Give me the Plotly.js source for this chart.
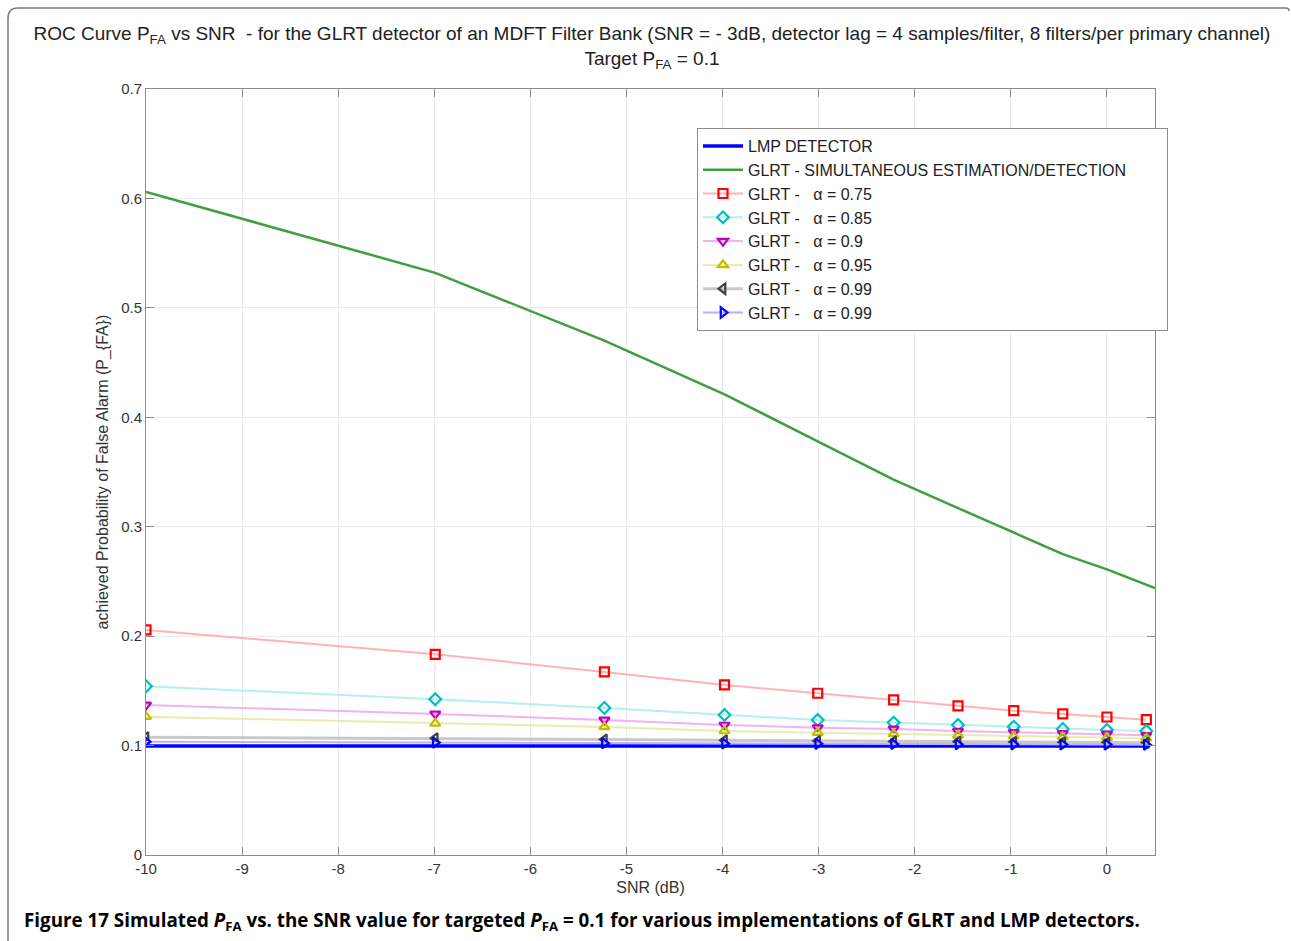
<!DOCTYPE html>
<html>
<head>
<meta charset="utf-8">
<script src="https://cdn.plot.ly/plotly-3.0.1.min.js"></script>
<style>
  html, body { margin: 0; padding: 0; background: #ffffff; }
  #chart { width: 1291px; height: 941px; }
</style>
</head>
<body>
<div id="chart"></div>
<script>
// SNR grid in dB (linear SNR 0.1 ... 1.1)
const snrDb = [-10, -6.99, -5.23, -3.98, -3.01, -2.22, -1.55, -0.97, -0.46, 0, 0.41];

// achieved false-alarm probability per detector
const lmp       = [0.0996, 0.0996, 0.0997, 0.0997, 0.0996, 0.0997, 0.0996, 0.0997, 0.0996, 0.0997, 0.0996];
const glrtSimX  = [-10, -6.99, -5.23, -3.98, -3.01, -2.22, -1.55, -0.97, -0.46, 0, 0.41, 0.5];
const glrtSim   = [0.606, 0.532, 0.470, 0.421, 0.378, 0.343, 0.317, 0.295, 0.275, 0.261, 0.247, 0.244];
const glrt075   = [0.2057, 0.1834, 0.1673, 0.1554, 0.1478, 0.1417, 0.1362, 0.1319, 0.1289, 0.1261, 0.1237];
const glrt085   = [0.1542, 0.1423, 0.1344, 0.1280, 0.1234, 0.1210, 0.1188, 0.1173, 0.1152, 0.1143, 0.1133];
const glrt090   = [0.1371, 0.1289, 0.1234, 0.1188, 0.1164, 0.1152, 0.1133, 0.1121, 0.1112, 0.1106, 0.1094];
const glrt095   = [0.1264, 0.1203, 0.1170, 0.1133, 0.1118, 0.1106, 0.1094, 0.1085, 0.1079, 0.1073, 0.1067];
const glrt099a  = [0.1076, 0.1067, 0.1055, 0.1048, 0.1042, 0.1038, 0.1035, 0.1032, 0.1030, 0.1028, 0.1026];
const glrt099b  = [0.1036, 0.1027, 0.1022, 0.1019, 0.1016, 0.1014, 0.1012, 0.1011, 0.1010, 0.1009, 0.1008];

const xTicks = [-10, -9, -8, -7, -6, -5, -4, -3, -2, -1, 0];
const yTicks = [0, 0.1, 0.2, 0.3, 0.4, 0.5, 0.6, 0.7];
const yTickText = ['0', '0.1', '0.2', '0.3', '0.4', '0.5', '0.6', '0.7'];

const sp = '\u00a0';
const alphaLabel = v => 'GLRT -' + sp + sp + sp + 'α = ' + v;

function glrtTrace(y, name, lineColor, markColor, symbol, lineWidth) {
  return {
    x: snrDb, y: y, name: name, type: 'scatter', mode: 'lines+markers',
    line: { color: lineColor, width: lineWidth || 2 },
    marker: { symbol: symbol, size: 9, color: markColor, line: { color: markColor, width: 2.2 } }
  };
}

const traces = [
  { x: snrDb, y: lmp, name: 'LMP DETECTOR', type: 'scatter', mode: 'lines',
    line: { color: '#0000ff', width: 3.5 } },
  { x: glrtSimX, y: glrtSim, name: 'GLRT - SIMULTANEOUS ESTIMATION/DETECTION' + sp.repeat(8), type: 'scatter', mode: 'lines',
    line: { color: '#3f9f3f', width: 2.5 } },
  glrtTrace(glrt075, alphaLabel('0.75'), '#ffb3b3', '#ff0000', 'square-open'),
  glrtTrace(glrt085, alphaLabel('0.85'), '#b3f0f0', '#00bfbf', 'diamond-open'),
  glrtTrace(glrt090, alphaLabel('0.9'),  '#f0b3f0', '#bf00bf', 'triangle-down-open'),
  glrtTrace(glrt095, alphaLabel('0.95'), '#ebebb0', '#bfbf00', 'triangle-up-open'),
  glrtTrace(glrt099a, alphaLabel('0.99'), '#c8c8c8', '#404040', 'triangle-left-open', 3),
  glrtTrace(glrt099b, alphaLabel('0.99'), '#b3b3ff', '#0000ff', 'triangle-right-open')
];

// plot area: x 146..1155 px, y 89..855 px
const W = 1291, H = 941, L = 146, R = 1155, T = 89, B = 855;
const px = v => (v - L) / (R - L);
const py = v => (B - v) / (B - T);

const axisCommon = {
  showline: true, linecolor: '#8c8c8c', linewidth: 1, mirror: 'ticks',
  ticks: 'inside', ticklen: 8, tickcolor: '#8c8c8c', tickwidth: 1,
  showgrid: true, gridcolor: '#ebebeb', gridwidth: 1, zeroline: false,
  tickfont: { family: 'Liberation Sans, Arial, sans-serif', size: 15, color: '#333333' }
};

const frameR = 10;
const framePath =
  'M ' + px(8) + ',' + py(H + 5) +
  ' L ' + px(8) + ',' + py(8 + frameR) +
  ' Q ' + px(8) + ',' + py(8) + ' ' + px(8 + frameR) + ',' + py(8) +
  ' L ' + px(1286) + ',' + py(8) +
  ' Q ' + px(1289) + ',' + py(8) + ' ' + px(1289) + ',' + py(11);

const layout = {
  width: W, height: H,
  margin: { l: L, r: W - R, t: T, b: H - B, pad: 0 },
  paper_bgcolor: '#ffffff', plot_bgcolor: '#ffffff',
  font: { family: 'Liberation Sans, Arial, sans-serif', color: '#222222' },
  title: {
    text: 'ROC Curve P<sub>FA</sub> vs SNR' + sp + sp + '- for the GLRT detector of an MDFT Filter Bank (SNR = - 3dB, detector lag = 4 samples/filter, 8 filters/per primary channel)<br>Target P<sub>FA</sub> = 0.1',
    x: 0.505, xref: 'container', xanchor: 'center',
    y: 1 - 40 / H, yref: 'container', yanchor: 'top',
    font: { family: 'Liberation Sans, Arial, sans-serif', size: 19, color: '#222222' }
  },
  xaxis: Object.assign({}, axisCommon, {
    range: [-10, 0.5], tickvals: xTicks, ticktext: xTicks.map(String),
    title: { text: 'SNR (dB)', standoff: 5, font: { size: 16, color: '#333333' } },
    automargin: false
  }),
  yaxis: Object.assign({}, axisCommon, {
    range: [0, 0.7], tickvals: yTicks, ticktext: yTickText,
    title: { text: 'achieved Probability of False Alarm (P_{FA})', standoff: 8, font: { size: 16, color: '#333333' } },
    automargin: false
  }),
  legend: {
    x: px(697), y: py(128), xanchor: 'left', yanchor: 'top',
    bgcolor: '#ffffff', bordercolor: '#8c8c8c', borderwidth: 1,
    itemwidth: 40, traceorder: 'normal',
    font: { family: 'Liberation Sans, Arial, sans-serif', size: 16, color: '#222222' }
  },
  shapes: [
    { type: 'path', xref: 'paper', yref: 'paper', path: framePath,
      line: { color: '#7a7a7a', width: 1.5 }, layer: 'below' }
  ],
  annotations: [
    { xref: 'paper', yref: 'paper', x: px(22), y: py(921), xanchor: 'left', yanchor: 'middle',
      showarrow: false, align: 'left',
      text: '<b>Figure 17 Simulated <i>P</i><sub>FA</sub> vs. the SNR value for targeted <i>P</i><sub>FA</sub> = 0.1 for various implementations of GLRT and LMP detectors.</b>',
      font: { family: 'Open Sans, sans-serif', size: 18.8, color: '#000000' } }
  ],
  showlegend: true
};

Plotly.newPlot('chart', traces, layout, { displayModeBar: false, staticPlot: true });
</script>
</body>
</html>
